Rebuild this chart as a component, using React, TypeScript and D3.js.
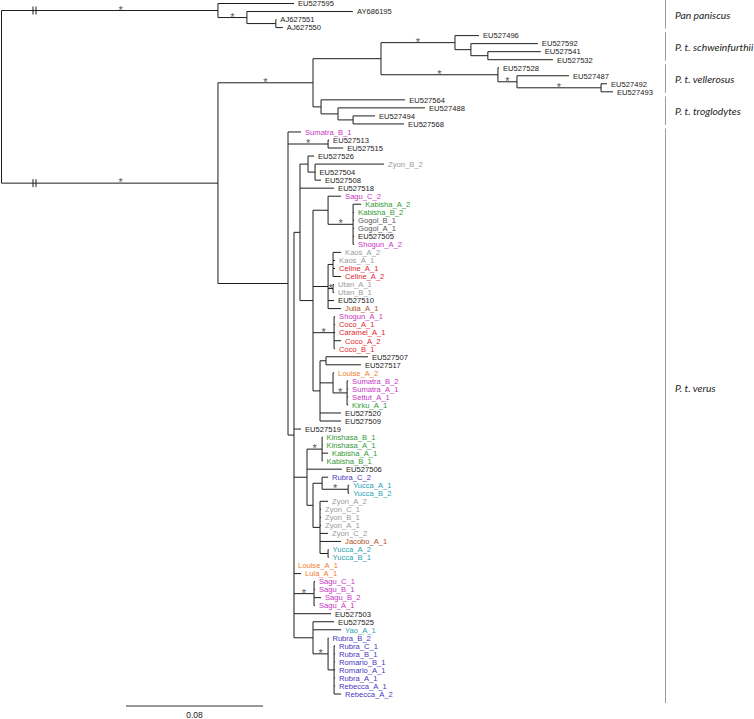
import React from "react";
import * as d3 from "d3";

// ---- tree data: [node, parent, branch length (subst./site)] in drawing order ----
const treeEdges: [string, string, number][] = [
  ["root", "", 0],
  ["pan", "root", 0.1264],
  ["EU527595", "pan", 0.0444],
  ["pan2", "pan", 0.0169],
  ["AY686195", "pan2", 0.0619],
  ["pan3", "pan2", 0.0169],
  ["AJ627551", "pan3", 0.0003],
  ["AJ627550", "pan3", 0.0041],
  ["pt", "root", 0.1264],
  ["t1", "pt", 0.0555],
  ["sv", "t1", 0.0397],
  ["schw", "sv", 0.0432],
  ["EU527496", "schw", 0.014],
  ["schw2", "schw", 0.0093],
  ["EU527592", "schw2", 0.0391],
  ["schw3", "schw2", 0.0099],
  ["EU527541", "schw3", 0.0309],
  ["EU527532", "schw3", 0.038],
  ["vell", "sv", 0.0683],
  ["EU527528", "vell", 0.0006],
  ["vell2", "vell", 0.0111],
  ["EU527487", "vell2", 0.0304],
  ["vell3", "vell2", 0.0491],
  ["EU527492", "vell3", 0.0035],
  ["EU527493", "vell3", 0.007],
  ["trog", "t1", 0.0047],
  ["EU527564", "trog", 0.0491],
  ["trog2", "trog", 0.0099],
  ["EU527488", "trog2", 0.0508],
  ["trog3", "trog2", 0.0088],
  ["EU527494", "trog3", 0.0128],
  ["EU527568", "trog3", 0.0298],
  ["verus", "pt", 0.0409],
  ["Sumatra_B_1", "verus", 0.0076],
  ["v_p1", "verus", 0.0234],
  ["EU527513", "v_p1", 0.0006],
  ["EU527515", "v_p1", 0.0088],
  ["v_b", "verus", 0.0035],
  ["v_c", "v_b", 0.0035],
  ["v_d", "v_c", 0.0047],
  ["EU527526", "v_d", 0.0035],
  ["v_e", "v_d", 0.0041],
  ["Zyon_B_2", "v_e", 0.0403],
  ["EU527504", "v_e", 0.0002],
  ["EU527508", "v_e", 0.0035],
  ["EU527518", "v_c", 0.0199],
  ["v_g", "v_c", 0.0076],
  ["v_q", "v_g", 0.0088],
  ["Sagu_C_2", "v_q", 0.0076],
  ["v_r", "v_q", 0.0146],
  ["Kabisha_A_2", "v_r", 0.0047],
  ["Kabisha_B_2", "v_r", 0.0006],
  ["Gogol_B_1", "v_r", 0.0006],
  ["Gogol_A_1", "v_r", 0.0006],
  ["EU527505", "v_r", 0.0006],
  ["Shogun_A_2", "v_r", 0.0006],
  ["v_l", "v_g", 0.0088],
  ["v_ka", "v_l", 0.0029],
  ["Kaos_A_2", "v_ka", 0.0047],
  ["Kaos_A_1", "v_ka", 0.0012],
  ["Celine_A_1", "v_ka", 0.0012],
  ["Celine_A_2", "v_ka", 0.0047],
  ["v_u", "v_l", 0.0029],
  ["Utan_A_1", "v_u", 0.0006],
  ["Utan_B_1", "v_u", 0.0006],
  ["EU527510", "v_l", 0.0035],
  ["Julia_A_1", "v_l", 0.0076],
  ["v_sh", "v_g", 0.0123],
  ["Shogun_A_1", "v_sh", 0.0006],
  ["Coco_A_1", "v_sh", 0.0006],
  ["Caramel_A_1", "v_sh", 0.0006],
  ["Coco_A_2", "v_sh", 0.0041],
  ["Coco_B_1", "v_sh", 0.0006],
  ["v_n", "v_g", 0.0041],
  ["v_n1", "v_n", 0.0035],
  ["EU527507", "v_n1", 0.0245],
  ["EU527517", "v_n1", 0.0204],
  ["v_lo", "v_n", 0.0076],
  ["Louise_A_2", "v_lo", 0.0006],
  ["v_su", "v_lo", 0.0082],
  ["Sumatra_B_2", "v_su", 0.0006],
  ["Sumatra_A_1", "v_su", 0.0006],
  ["Settut_A_1", "v_su", 0.0006],
  ["Kirku_A_1", "v_su", 0.0006],
  ["EU527520", "v_n", 0.0123],
  ["EU527509", "v_n", 0.0123],
  ["EU527519", "v_b", 0.0041],
  ["v_h", "v_b", 0.0076],
  ["v_k1", "v_h", 0.0088],
  ["Kinshasa_B_1", "v_k1", 0.0003],
  ["Kinshasa_A_1", "v_k1", 0.0003],
  ["Kabisha_A_1", "v_k1", 0.0035],
  ["Kabisha_B_1", "v_k1", 0.0003],
  ["EU527506", "v_h", 0.0204],
  ["v_i", "v_h", 0.0035],
  ["v_j", "v_i", 0.0053],
  ["Rubra_C_2", "v_j", 0.0035],
  ["v_yu", "v_j", 0.0152],
  ["Yucca_A_1", "v_yu", 0.0006],
  ["Yucca_B_2", "v_yu", 0.0006],
  ["v_z", "v_i", 0.0041],
  ["Zyon_A_2", "v_z", 0.0047],
  ["Zyon_C_1", "v_z", 0.0006],
  ["Zyon_B_1", "v_z", 0.0006],
  ["Zyon_A_1", "v_z", 0.0006],
  ["Zyon_C_2", "v_z", 0.0047],
  ["Jacobo_A_1", "v_z", 0.0123],
  ["v_yu2", "v_z", 0.0047],
  ["Yucca_A_2", "v_yu2", 0.0003],
  ["Yucca_B_1", "v_yu2", 0.0003],
  ["Louise_A_1", "v_b", 0],
  ["Lula_A_1", "v_b", 0.0041],
  ["v_sg", "v_b", 0.0117],
  ["Sagu_C_1", "v_sg", 0.0006],
  ["Sagu_B_1", "v_sg", 0.0006],
  ["Sagu_B_2", "v_sg", 0.0041],
  ["Sagu_A_1", "v_sg", 0.0006],
  ["EU527503", "v_b", 0.0216],
  ["v_yr", "v_b", 0.0111],
  ["EU527525", "v_yr", 0.0123],
  ["Yao_A_1", "v_yr", 0.0164],
  ["v_ru", "v_yr", 0.0088],
  ["Rubra_B_2", "v_ru", 0.0002],
  ["v_ru2", "v_ru", 0.0035],
  ["Rubra_C_1", "v_ru2", 0.0006],
  ["Rubra_B_1", "v_ru2", 0.0006],
  ["Romario_B_1", "v_ru2", 0.0006],
  ["Romario_A_1", "v_ru2", 0.0006],
  ["Rubra_A_1", "v_ru2", 0.0006],
  ["Rebecca_A_1", "v_ru2", 0.0006],
  ["Rebecca_A_2", "v_ru2", 0.0041],
];

// branches with support (*)
const supported = ["pan", "pt", "pan2", "t1", "schw", "vell", "vell2", "vell3", "v_p1", "v_r", "v_u", "v_sh", "v_su", "v_k1", "v_yu", "v_sg", "v_ru"];
// root branches drawn with a break mark
const brokenBranches = ["pan", "pt"];

// tip label colour groups
const magentaTips = ["Sumatra_B_1", "Sagu_C_2", "Shogun_A_2", "Shogun_A_1", "Sumatra_B_2", "Sumatra_A_1", "Settut_A_1", "Sagu_C_1", "Sagu_B_1", "Sagu_B_2", "Sagu_A_1"];
const greenTips = ["Kabisha_A_2", "Kabisha_B_2", "Kirku_A_1", "Kinshasa_B_1", "Kinshasa_A_1", "Kabisha_A_1", "Kabisha_B_1"];
const grayTips = ["Zyon_B_2", "Kaos_A_2", "Kaos_A_1", "Utan_A_1", "Utan_B_1", "Zyon_A_2", "Zyon_C_1", "Zyon_B_1", "Zyon_A_1", "Zyon_C_2"];
const darkGrayTips = ["Gogol_B_1", "Gogol_A_1"];
const redTips = ["Celine_A_1", "Celine_A_2", "Coco_A_1", "Caramel_A_1", "Coco_A_2", "Coco_B_1"];
const orangeTips = ["Louise_A_2", "Louise_A_1", "Lula_A_1"];
const brownTips = ["Julia_A_1", "Jacobo_A_1"];
const blueTips = ["Rubra_C_2", "Rubra_B_2", "Rubra_C_1", "Rubra_B_1", "Romario_B_1", "Romario_A_1", "Rubra_A_1", "Rebecca_A_1", "Rebecca_A_2"];
const tealTips = ["Yucca_A_1", "Yucca_B_2", "Yucca_A_2", "Yucca_B_1", "Yao_A_1"];

// clades on the right
const cladeNames = ["Pan paniscus", "P. t. schweinfurthii", "P. t. vellerosus", "P. t. troglodytes", "P. t. verus"];
const cladeFirst = ["EU527595", "EU527496", "EU527528", "EU527564", "Sumatra_B_1"];
const cladeLast = ["AJ627550", "EU527532", "EU527493", "EU527568", "Rebecca_A_2"];
const cladeLabelLeaf = [null, null, null, null, "Sumatra_A_1"];

const scaleBarValue = 0.08;

const colorOf = (name: string): string => {
  if (magentaTips.includes(name)) return "#c834c4";
  if (greenTips.includes(name)) return "#2f9a34";
  if (grayTips.includes(name)) return "#9a9a9a";
  if (darkGrayTips.includes(name)) return "#555555";
  if (redTips.includes(name)) return "#e3262b";
  if (orangeTips.includes(name)) return "#f07d2c";
  if (brownTips.includes(name)) return "#b0501e";
  if (blueTips.includes(name)) return "#4a36c2";
  if (tealTips.includes(name)) return "#1f9fb2";
  return "#1a1a1a";
};

type Node = { id: string; parent: string; len: number; children: Node[]; dist: number; y: number; leafIndex: number };

function layout() {
  const map = new Map<string, Node>();
  treeEdges.forEach(([id, parent, len]) => map.set(id, { id, parent, len, children: [], dist: 0, y: 0, leafIndex: -1 }));
  treeEdges.forEach(([id, parent]) => { if (parent) map.get(parent)!.children.push(map.get(id)!); });
  const root = map.get("root")!;
  let leafCount = 0;
  const walk1 = (n: Node, d: number) => {
    n.dist = d;
    if (!n.children.length) n.leafIndex = leafCount++;
    n.children.forEach((c) => walk1(c, d + c.len));
  };
  walk1(root, 0);
  const yScale = d3.scaleLinear().domain([0, leafCount - 1]).range([3.5, 694]);
  const walk2 = (n: Node) => {
    if (!n.children.length) { n.y = yScale(n.leafIndex); return; }
    n.children.forEach(walk2);
    n.y = (n.children[0].y + n.children[n.children.length - 1].y) / 2;
  };
  walk2(root);
  return { map, root };
}

export default function App() {
  const { map } = layout();
  const xs = d3.scaleLinear().domain([0, scaleBarValue]).range([0, 137]);
  const x0 = 1.5;
  const X = (n: Node) => x0 + xs(n.dist);
  const nodes = Array.from(map.values());
  const stroke = "#1e1e1e";
  const labelFont = "'Liberation Sans', Arial, Helvetica, sans-serif";
  const cladeX = 665.5;

  return (
    <svg width={754} height={719} style={{ position: "absolute", left: 0, top: 0, background: "#fff" }}>
      <g>
        {nodes.filter((n) => n.parent).map((n) => {
          const p = map.get(n.parent)!;
          return <line key={"h" + n.id} x1={X(p)} x2={X(n)} y1={n.y} y2={n.y} stroke={stroke} strokeWidth={1} />;
        })}
        {nodes.filter((n) => n.children.length).map((n) => (
          <line key={"v" + n.id} x1={X(n)} x2={X(n)} y1={n.children[0].y} y2={n.children[n.children.length - 1].y} stroke={stroke} strokeWidth={1} />
        ))}
        {brokenBranches.map((id) => {
          const n = map.get(id)!;
          const bx = x0 + 31.5;
          return (
            <g key={"br" + id}>
              <line x1={bx} x2={bx} y1={n.y - 4} y2={n.y + 4} stroke={stroke} strokeWidth={1} />
              <line x1={bx + 3} x2={bx + 3} y1={n.y - 4} y2={n.y + 4} stroke={stroke} strokeWidth={1} />
            </g>
          );
        })}
        {supported.map((id) => {
          const n = map.get(id)!;
          const p = map.get(n.parent)!;
          const sx = brokenBranches.includes(id) ? X(p) + (X(n) - X(p)) * 0.55 : (X(p) + X(n)) / 2;
          return (
            <text key={"s" + id} x={sx} y={n.y + 3.2} fontSize={11} fontFamily={labelFont} fill="#555" textAnchor="middle">*</text>
          );
        })}
        {nodes.filter((n) => !n.children.length).map((n) => (
          <text key={"t" + n.id} x={X(n) + 4} y={n.y + 2.8} fontSize={7.6} fontFamily={labelFont} fill={colorOf(n.id)}>
            {n.id}
          </text>
        ))}
      </g>
      <g>
        {cladeNames.map((name, i) => {
          const a = map.get(cladeFirst[i])!.y;
          const b = map.get(cladeLast[i])!.y;
          const lab = cladeLabelLeaf[i];
          const ly = lab ? map.get(lab)!.y : (a + b) / 2;
          const extra = i === cladeNames.length - 1 ? 9 : 1;
          return (
            <g key={name}>
              <line x1={cladeX} x2={cladeX} y1={Math.max(0, a - 3.5)} y2={b + extra} stroke="#9a9a9a" strokeWidth={1} />
              <text x={675} y={ly + 3.5} fontSize={10.3} fontStyle="italic" fontFamily="Lato, 'Open Sans', sans-serif" fill="#222">{name}</text>
            </g>
          );
        })}
      </g>
      <g>
        <line x1={126} x2={126 + xs(scaleBarValue)} y1={706} y2={706} stroke="#333" strokeWidth={1} />
        <text x={126 + xs(scaleBarValue) / 2} y={718} fontSize={8.5} fontFamily={labelFont} fill="#222" textAnchor="middle">{scaleBarValue.toFixed(2)}</text>
      </g>
    </svg>
  );
}
